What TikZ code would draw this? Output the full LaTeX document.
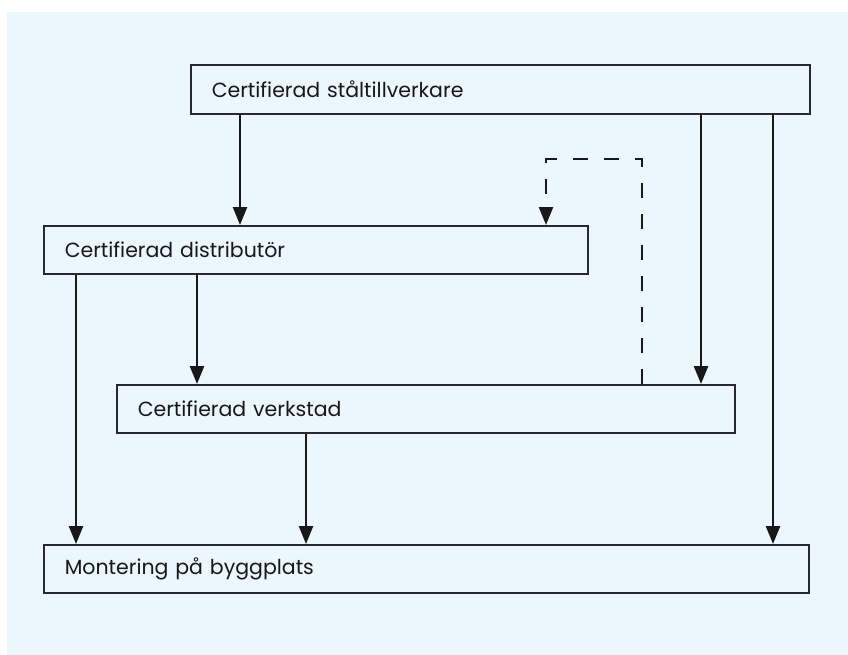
\documentclass[tikz,border=0pt]{standalone}
\usepackage{fontspec}
\setmainfont{Poppins}
\usetikzlibrary{arrows.meta,calc}
\definecolor{bgblue}{RGB}{235,246,253}
\definecolor{ink}{RGB}{25,23,25}
\definecolor{boxline}{RGB}{40,40,45}
\begin{document}
\begin{tikzpicture}[x=1pt,y=-1pt,
  box/.style={draw=boxline, line width=1.6pt, fill=bgblue, anchor=north west,
    inner xsep=21pt, inner ysep=0pt, align=left, text=ink,
    font=\fontsize{20.5}{24}\selectfont},
  arr/.style={draw=ink, line width=2.5pt, -{Triangle[length=18pt,width=14pt]}},
  dasharr/.style={arr, dash pattern=on 15pt off 16pt}]
\useasboundingbox (0,0) rectangle (848,655);
\fill[bgblue] (7,12) rectangle (848,655);
\node[box, minimum width=619pt, minimum height=49pt, text width=577pt] (man) at (190,64) {Certifierad ståltillverkare};
\node[box, minimum width=544pt, minimum height=48pt, text width=502pt] (dist) at (43,225) {Certifierad distributör};
\node[box, minimum width=618pt, minimum height=48pt, text width=576pt] (verk) at (116,384) {Certifierad verkstad};
\node[box, minimum width=765pt, minimum height=48pt, text width=723pt] (mont) at (43,544) {Montering på byggplats};
\draw[arr] (man.south -| 240,0) -- (dist.north -| 240,0);
\draw[arr] (man.south -| 701,0) -- (verk.north -| 701,0);
\draw[arr] (man.south -| 773,0) -- (mont.north -| 773,0);
\draw[arr] (dist.south -| 76,0) -- (mont.north -| 76,0);
\draw[arr] (dist.south -| 197,0) -- (verk.north -| 197,0);
\draw[arr] (verk.south -| 306,0) -- (mont.north -| 306,0);
\draw[dasharr] (verk.north -| 642,0) -- (642,159) -- (546,159) -- (dist.north -| 546,0);
\end{tikzpicture}
\end{document}
